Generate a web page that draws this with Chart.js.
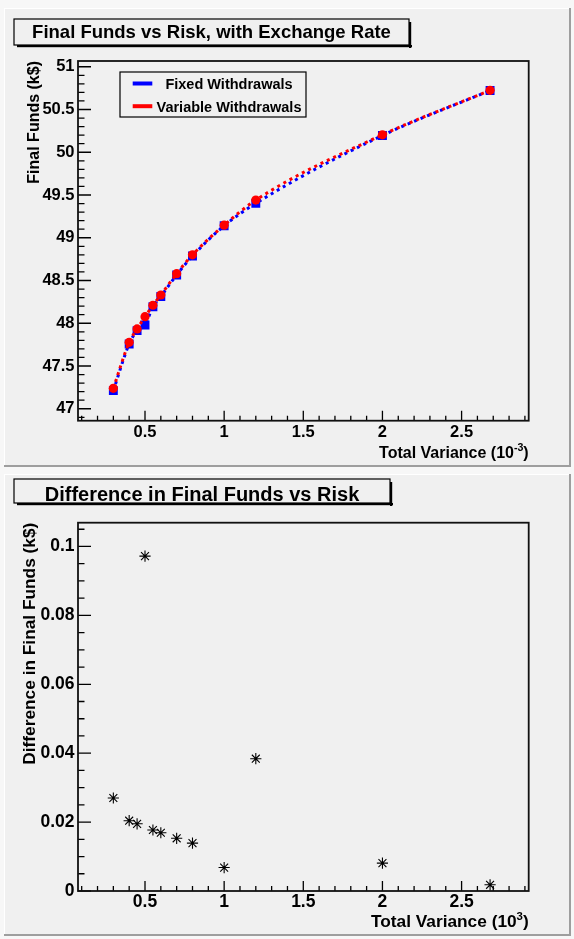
<!DOCTYPE html>
<html>
<head>
<meta charset="utf-8">
<script src="https://cdn.jsdelivr.net/npm/chart.js@4.4.1/dist/chart.umd.min.js"></script>
<style>
html,body{margin:0;padding:0;background:#f7f7f7;width:574px;height:939px;overflow:hidden;}
canvas{position:absolute;left:0;display:block;}
</style>
</head>
<body>
<canvas id="cTop" width="574" height="470" style="top:0px"></canvas>
<canvas id="cBot" width="574" height="469" style="top:470px"></canvas>
<script>
// ---------------- data ----------------
const variance      = [0.3, 0.4, 0.45, 0.5, 0.55, 0.6, 0.7, 0.8, 1.0, 1.2, 2.0, 2.68];
const fixedFunds    = [47.212, 47.757, 47.914, 47.980, 48.192, 48.313, 48.565, 48.786, 49.140, 49.402, 50.196, 50.722];
const variableFunds = [47.239, 47.777, 47.933, 48.077, 48.210, 48.330, 48.580, 48.800, 49.147, 49.440, 50.204, 50.724];
const fundsDiff     = [0.0270, 0.0204, 0.0195, 0.0972, 0.0177, 0.0169, 0.0153, 0.0139, 0.0068, 0.0384, 0.0081, 0.0018];

const xTickValues    = [0.5, 1, 1.5, 2, 2.5];
const xTickLabels    = ['0.5', '1', '1.5', '2', '2.5'];
const topYTickValues = [47, 47.5, 48, 48.5, 49, 49.5, 50, 50.5, 51];
const topYTickLabels = ['47', '47.5', '48', '48.5', '49', '49.5', '50', '50.5', '51'];
const botYTickValues = [0, 0.02, 0.04, 0.06, 0.08, 0.1];
const botYTickLabels = ['0', '0.02', '0.04', '0.06', '0.08', '0.1'];

const topTitle   = 'Final Funds vs Risk, with Exchange Rate';
const botTitle   = 'Difference in Final Funds vs Risk';
const topYTitle  = 'Final Funds (k$)';
const botYTitle  = 'Difference in Final Funds (k$)';
const xTitleBase = 'Total Variance (10';
const topXSup    = '-3';
const botXSup    = '3';
const xTitleTail = ')';
const seriesLabels = ['Fixed Withdrawals', 'Variable Withdrawals'];

// ---------------- style ----------------
const FONT = "'Liberation Sans', Arial, Helvetica, sans-serif";
const PAGE_BG = '#f7f7f7';
const PANEL_BG = '#f0f0f0';

const rootStyle = {
  id: 'rootStyle',
  beforeDraw(chart, args, o) {
    const ctx = chart.ctx;
    ctx.save();
    ctx.fillStyle = PAGE_BG; ctx.fillRect(0, 0, chart.width, chart.height);
    const p = o.panel;
    ctx.fillStyle = PANEL_BG; ctx.fillRect(p.x, p.y, p.w, p.h);
    ctx.fillStyle = '#ffffff'; ctx.fillRect(p.x, p.y, p.w, 1); ctx.fillRect(p.x, p.y, 1, p.h);
    ctx.fillStyle = '#9e9e9e'; ctx.fillRect(p.x, p.y + p.h - 2, p.w, 2); ctx.fillRect(p.x + p.w - 2, p.y, 2, p.h);
    ctx.restore();
  },
  afterDraw(chart, args, o) {
    const ctx = chart.ctx, ca = chart.chartArea, xs = chart.scales.x, ys = chart.scales.y;
    ctx.save();
    // tick marks drawn inside the frame (major + minor), positioned by the scales
    const minorVals = (s, step) => { const out = []; for (let k = Math.ceil(s.min / step - 1e-9); k * step <= s.max + 1e-9; k++) out.push(k * step); return out; };
    const tl = o.tickLen;
    ctx.strokeStyle = '#000'; ctx.lineWidth = 1.3;
    ctx.beginPath();
    minorVals(xs, o.minorStep.x).forEach(v => { const px = xs.getPixelForValue(v); ctx.moveTo(px, ca.bottom); ctx.lineTo(px, ca.bottom - tl.xMinor); });
    xs.ticks.forEach(t => { const px = xs.getPixelForValue(t.value); ctx.moveTo(px, ca.bottom); ctx.lineTo(px, ca.bottom - tl.xMajor); });
    minorVals(ys, o.minorStep.y).forEach(v => { const py = ys.getPixelForValue(v); ctx.moveTo(ca.left, py); ctx.lineTo(ca.left + tl.yMinor, py); });
    ys.ticks.forEach(t => { const py = ys.getPixelForValue(t.value); ctx.moveTo(ca.left, py); ctx.lineTo(ca.left + tl.yMajor, py); });
    ctx.stroke();
    // frame
    ctx.lineWidth = 1.8; ctx.strokeStyle = '#111';
    ctx.strokeRect(ca.left, ca.top, ca.right - ca.left, ca.bottom - ca.top);
    // x axis title with superscript
    const xt = o.xTitle;
    ctx.fillStyle = '#000'; ctx.textBaseline = 'alphabetic'; ctx.textAlign = 'left';
    const fMain = `bold ${xt.size}px ${FONT}`, fSup = `bold ${(xt.size * 0.66).toFixed(1)}px ${FONT}`;
    ctx.font = fMain; const wBase = ctx.measureText(xt.base).width, wTail = ctx.measureText(xt.tail).width;
    ctx.font = fSup; const wSup = ctx.measureText(xt.sup).width;
    const x0 = ca.right - (wBase + wSup + wTail), yb = ca.bottom + xt.offset;
    ctx.font = fMain; ctx.fillText(xt.base, x0, yb);
    ctx.font = fSup; ctx.fillText(xt.sup, x0 + wBase, yb - xt.size * 0.42);
    ctx.font = fMain; ctx.fillText(xt.tail, x0 + wBase + wSup, yb);
    // title box with shadow
    const tb = o.titleBox;
    ctx.fillStyle = PANEL_BG; ctx.fillRect(tb.x, tb.y, tb.w, tb.h);
    ctx.fillStyle = '#000';
    ctx.fillRect(tb.x + 3, tb.y + tb.h, tb.w, 2.2);
    ctx.fillRect(tb.x + tb.w, tb.y + 3, 2.2, tb.h);
    ctx.lineWidth = 1.2; ctx.strokeStyle = '#000';
    ctx.strokeRect(tb.x, tb.y, tb.w, tb.h);
    ctx.font = `bold ${tb.size}px ${FONT}`; ctx.textAlign = 'center'; ctx.textBaseline = 'middle';
    ctx.fillText(tb.text, tb.x + tb.w / 2, tb.textY);
    // legend built from datasets
    const L = o.legend;
    if (L) {
      ctx.fillStyle = PANEL_BG; ctx.fillRect(L.x, L.y, L.w, L.h);
      ctx.lineWidth = 1.2; ctx.strokeStyle = '#000'; ctx.strokeRect(L.x, L.y, L.w, L.h);
      ctx.font = `bold ${L.size}px ${FONT}`; ctx.textAlign = 'center'; ctx.textBaseline = 'middle';
      chart.data.datasets.forEach((ds, i) => {
        const y = L.rowY[i];
        ctx.strokeStyle = ds.borderColor; ctx.lineWidth = 4; ctx.setLineDash([]);
        ctx.beginPath(); ctx.moveTo(L.lineX0, y - 1.5); ctx.lineTo(L.lineX1, y - 1.5); ctx.stroke();
        ctx.fillStyle = '#000'; ctx.fillText(ds.label, L.textX, y);
      });
    }
    ctx.restore();
  }
};

function setTicks(values) { return scale => { scale.ticks = values.map(v => ({ value: v })); }; }
function labelFor(values, labels) { return v => { const i = values.findIndex(t => Math.abs(t - v) < 1e-9); return i >= 0 ? labels[i] : ''; }; }

// ---------------- top chart ----------------
new Chart(document.getElementById('cTop'), {
  type: 'line',
  data: {
    datasets: [
      {
        label: seriesLabels[0],
        data: variance.map((x, i) => ({ x, y: fixedFunds[i] })),
        borderColor: '#0000ff', backgroundColor: '#0000ff',
        borderWidth: 3, borderDash: [3, 4], borderCapStyle: 'butt',
        cubicInterpolationMode: 'monotone', tension: 0.4,
        pointStyle: 'rect', pointRadius: 6.3, pointBorderWidth: 0, pointBackgroundColor: '#0000ff',
        order: 2
      },
      {
        label: seriesLabels[1],
        data: variance.map((x, i) => ({ x, y: variableFunds[i] })),
        borderColor: '#ff0000', backgroundColor: '#ff0000',
        borderWidth: 3, borderDash: [3, 4], borderCapStyle: 'butt',
        cubicInterpolationMode: 'monotone', tension: 0.4,
        pointStyle: 'circle', pointRadius: 4.6, pointBorderWidth: 0, pointBackgroundColor: '#ff0000',
        order: 1
      }
    ]
  },
  options: {
    responsive: false, animation: false, events: [],
    layout: { padding: { top: 61, right: 45.3, left: 0, bottom: 0 } },
    plugins: {
      legend: { display: false }, title: { display: false }, tooltip: { enabled: false },
      rootStyle: {
        panel: { x: 4, y: 8, w: 567, h: 459 },
        tickLen: { xMajor: 10, xMinor: 5, yMajor: 13, yMinor: 6.5 },
        minorStep: { x: 0.1, y: 0.1 },
        xTitle: { base: xTitleBase, sup: topXSup, tail: xTitleTail, size: 16, offset: 37 },
        titleBox: { x: 14, y: 19, w: 395, h: 26, text: topTitle, size: 18.5, textY: 32.5 },
        legend: { x: 120, y: 72, w: 186, h: 45, size: 14.5, rowY: [85, 107.7], lineX0: 132.7, lineX1: 152.3, textX: 229 }
      }
    },
    scales: {
      x: {
        type: 'linear', min: 0.0767, max: 2.924,
        afterBuildTicks: setTicks(xTickValues),
        afterFit: s => { s.height = 470 - 420.7; },
        grid: { display: false, drawTicks: false }, border: { display: false },
        ticks: { autoSkip: false, maxRotation: 0, padding: 2, color: '#000',
                 font: { family: FONT, size: 16.5, weight: 'bold' },
                 callback: labelFor(xTickValues, xTickLabels) }
      },
      y: {
        type: 'linear', min: 46.86, max: 51.067,
        afterBuildTicks: setTicks(topYTickValues),
        afterFit: s => { s.width = 78; },
        grid: { display: false, drawTicks: false }, border: { display: false },
        ticks: { autoSkip: false, padding: 3.5, color: '#000',
                 font: { family: FONT, size: 16.5, weight: 'bold' },
                 callback: labelFor(topYTickValues, topYTickLabels) },
        title: { display: true, text: topYTitle, align: 'end', color: '#000',
                 font: { family: FONT, size: 16, weight: 'bold', lineHeight: 1 },
                 padding: { top: 26.5, bottom: 0 } }
      }
    }
  },
  plugins: [rootStyle]
});

// ---------------- bottom chart ----------------
new Chart(document.getElementById('cBot'), {
  type: 'line',
  data: {
    datasets: [{
      label: 'Difference',
      data: variance.map((x, i) => ({ x, y: fundsDiff[i] })),
      showLine: false,
      borderColor: '#000', backgroundColor: '#000',
      pointStyle: 'star', pointRadius: 5.6, pointBorderWidth: 1.1,
      pointBorderColor: '#000', pointBackgroundColor: '#000'
    }]
  },
  options: {
    responsive: false, animation: false, events: [],
    layout: { padding: { top: 52.7, right: 45.3, left: 0, bottom: 0 } },
    plugins: {
      legend: { display: false }, title: { display: false }, tooltip: { enabled: false },
      rootStyle: {
        panel: { x: 4, y: 4, w: 567, h: 462 },
        tickLen: { xMajor: 10, xMinor: 5, yMajor: 13, yMinor: 6.5 },
        minorStep: { x: 0.1, y: 0.005 },
        xTitle: { base: xTitleBase, sup: botXSup, tail: xTitleTail, size: 17.3, offset: 36 },
        titleBox: { x: 14, y: 9, w: 376, h: 24, text: botTitle, size: 20, textY: 25 },
        legend: null
      }
    },
    scales: {
      x: {
        type: 'linear', min: 0.0767, max: 2.924,
        afterBuildTicks: setTicks(xTickValues),
        afterFit: s => { s.height = 469 - 421; },
        grid: { display: false, drawTicks: false }, border: { display: false },
        ticks: { autoSkip: false, maxRotation: 0, padding: 1, color: '#000',
                 font: { family: FONT, size: 17.5, weight: 'bold' },
                 callback: labelFor(xTickValues, xTickLabels) }
      },
      y: {
        type: 'linear', min: 0, max: 0.1069,
        afterBuildTicks: setTicks(botYTickValues),
        afterFit: s => { s.width = 78; },
        grid: { display: false, drawTicks: false }, border: { display: false },
        ticks: { autoSkip: false, padding: 3.5, color: '#000',
                 font: { family: FONT, size: 17.5, weight: 'bold' },
                 callback: labelFor(botYTickValues, botYTickLabels) },
        title: { display: true, text: botYTitle, align: 'end', color: '#000',
                 font: { family: FONT, size: 17.3, weight: 'bold', lineHeight: 1 },
                 padding: { top: 21.3, bottom: 0 } }
      }
    }
  },
  plugins: [rootStyle]
});
</script>
</body>
</html>
